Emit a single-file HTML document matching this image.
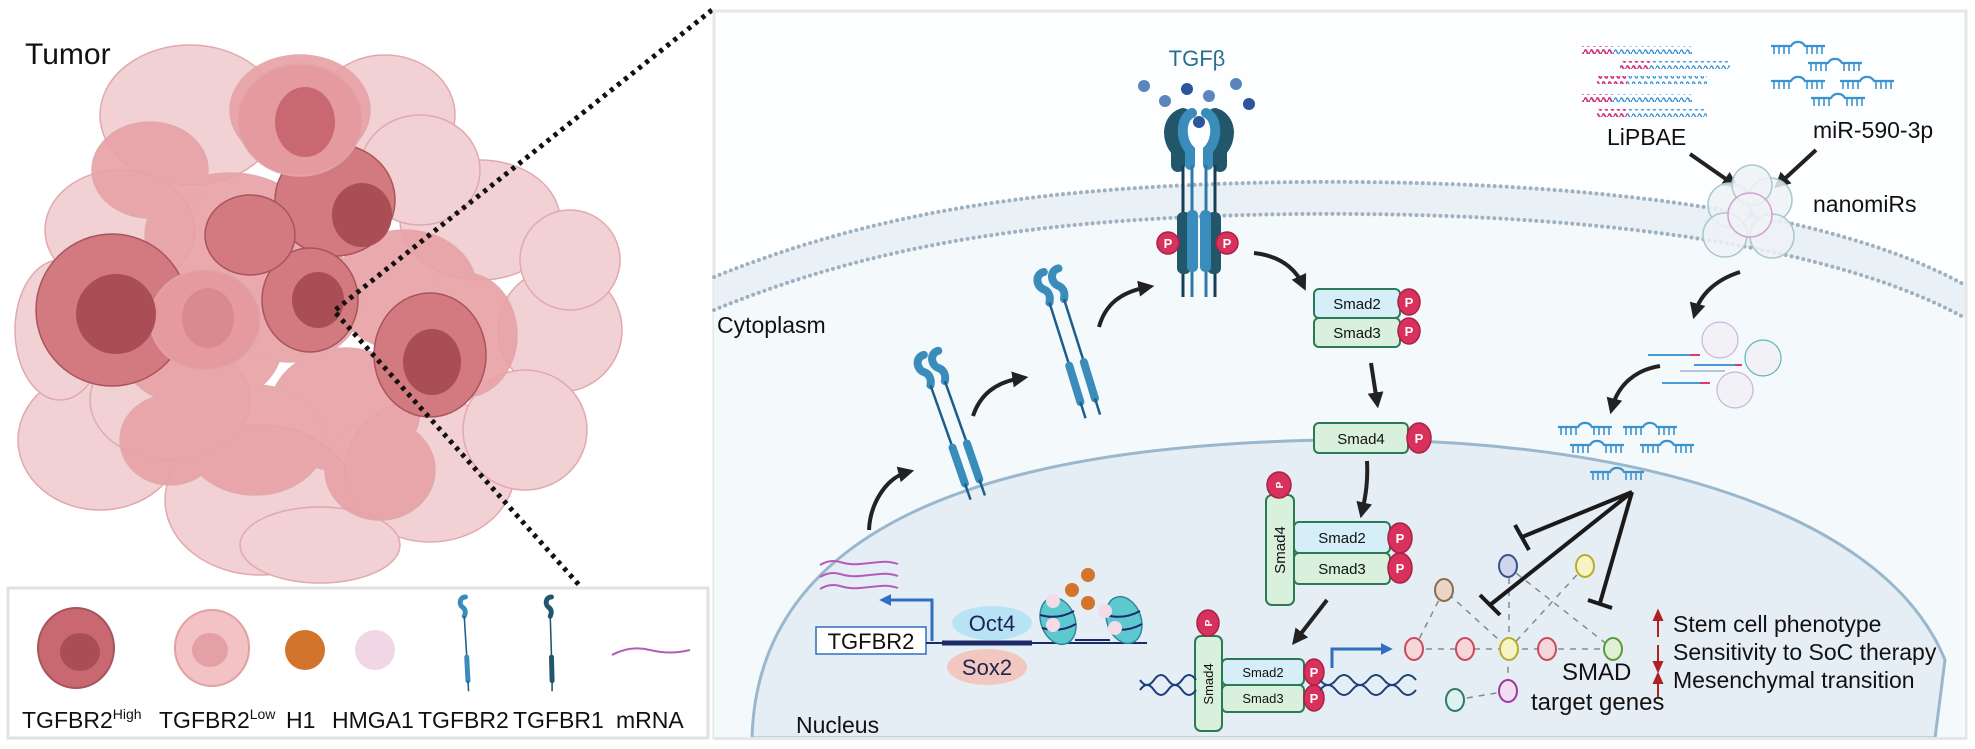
<!DOCTYPE html>
<html><head><meta charset="utf-8"><style>
html,body{margin:0;padding:0;background:#fff}
svg{display:block}
text{font-family:"Liberation Sans",sans-serif}
</style></head><body>
<svg width="1975" height="749" viewBox="0 0 1975 749" xmlns="http://www.w3.org/2000/svg">
<defs>
<marker id="ah" viewBox="0 0 10 10" refX="6" refY="5" markerWidth="4" markerHeight="4" orient="auto"><path d="M0 0 L10 5 L0 10 Z" fill="#222"/></marker>
<marker id="ahb" viewBox="0 0 10 10" refX="6" refY="5" markerWidth="4" markerHeight="4" orient="auto"><path d="M0 0 L10 5 L0 10 Z" fill="#2f6fc0"/></marker>
<pattern id="wb" width="6" height="8" patternUnits="userSpaceOnUse"><path d="M0 4 Q1.5 0 3 4 T6 4" fill="none" stroke="#4a9ad6" stroke-width="1.6"/></pattern>
<pattern id="wp" width="6" height="8" patternUnits="userSpaceOnUse"><path d="M0 4 Q1.5 0 3 4 T6 4" fill="none" stroke="#d83a7c" stroke-width="1.8"/></pattern>
<g id="mir" fill="none" stroke="#3c92cf" stroke-width="2.2"><path d="M0 8 H20 A8 8 0 0 1 34 8 H54"/><path d="M3 8v8M8 8v8M13 8v8M18 8v8M36 8v8M41 8v8M46 8v8M51 8v8" stroke-width="1.6"/></g>
<g id="rec"><path d="M4 0 C-6 0 -7 13 0 17 C5 21 4 27 2 31" fill="none" stroke="#3a8dba" stroke-width="8" stroke-linecap="round"/><path d="M2 31 L6 95" stroke="#1f5d8a" stroke-width="2.5"/><path d="M6 97 L8 135" stroke="#3a8dba" stroke-width="8" stroke-linecap="round"/><path d="M8 135 L9 152" stroke="#1f5d8a" stroke-width="2.5"/></g>
</defs>

<text x="25" y="64" font-size="30" fill="#111">Tumor</text>
<g stroke="#e0a5aa" stroke-width="1.5">
<g fill="#f2cfd2" opacity="0.95">
<ellipse cx="190" cy="115" rx="90" ry="70"/><ellipse cx="385" cy="115" rx="70" ry="60"/><ellipse cx="120" cy="230" rx="75" ry="60"/><ellipse cx="480" cy="220" rx="80" ry="60"/><ellipse cx="560" cy="330" rx="62" ry="62"/><ellipse cx="100" cy="440" rx="82" ry="70"/><ellipse cx="260" cy="500" rx="95" ry="75"/><ellipse cx="430" cy="470" rx="85" ry="72"/><ellipse cx="525" cy="430" rx="62" ry="60"/><ellipse cx="320" cy="545" rx="80" ry="38"/><ellipse cx="170" cy="400" rx="80" ry="60"/><ellipse cx="570" cy="260" rx="50" ry="50"/><ellipse cx="60" cy="330" rx="45" ry="70"/><ellipse cx="420" cy="170" rx="60" ry="55"/></g>
<g fill="#e8a2a7" opacity="0.92">
<ellipse cx="300" cy="110" rx="70" ry="55"/><ellipse cx="230" cy="235" rx="85" ry="62"/><ellipse cx="405" cy="290" rx="72" ry="60"/><ellipse cx="200" cy="345" rx="82" ry="62"/><ellipse cx="345" cy="410" rx="75" ry="62"/><ellipse cx="465" cy="335" rx="52" ry="62"/><ellipse cx="290" cy="300" rx="72" ry="62"/><ellipse cx="150" cy="170" rx="58" ry="48"/><ellipse cx="255" cy="440" rx="70" ry="55"/><ellipse cx="380" cy="470" rx="55" ry="50"/><ellipse cx="170" cy="440" rx="50" ry="45"/></g>
<g fill="#d27a80" stroke="#a8545b"><ellipse cx="112" cy="310" rx="76" ry="76"/><ellipse cx="335" cy="200" rx="60" ry="56"/><ellipse cx="310" cy="300" rx="48" ry="52"/><ellipse cx="430" cy="355" rx="56" ry="62"/><ellipse cx="250" cy="235" rx="45" ry="40"/></g>
<g fill="#e59aa0"><ellipse cx="300" cy="120" rx="62" ry="56"/><ellipse cx="205" cy="320" rx="55" ry="50"/></g>
<g fill="#a94e55" stroke="none"><ellipse cx="116" cy="314" rx="40" ry="40"/><ellipse cx="362" cy="215" rx="30" ry="32"/><ellipse cx="318" cy="300" rx="26" ry="28"/><ellipse cx="432" cy="362" rx="29" ry="33"/><ellipse cx="305" cy="122" rx="30" ry="35" fill="#c96870"/><ellipse cx="208" cy="318" rx="26" ry="30" fill="#d98a90"/></g>
</g>
<path d="M712 10 L334 311 L580 586" fill="none" stroke="#111" stroke-width="5" stroke-dasharray="4 5"/>

<rect x="8" y="588" width="700" height="150" fill="#fff" stroke="#e2e2e2" stroke-width="3"/>
<ellipse cx="76" cy="648" rx="38" ry="40" fill="#c96870" stroke="#a8545b" stroke-width="2"/><ellipse cx="80" cy="652" rx="20" ry="19" fill="#a94e55"/>
<ellipse cx="212" cy="648" rx="37" ry="38" fill="#f2c2c5" stroke="#e3a1a6" stroke-width="2"/><ellipse cx="210" cy="650" rx="18" ry="17" fill="#e4a0a5"/>
<circle cx="305" cy="650" r="20" fill="#d2742b"/>
<circle cx="375" cy="650" r="20" fill="#f1d6e6"/>
<g transform="translate(463,597) scale(0.62)"><use href="#rec"/></g>
<g transform="translate(549,597) scale(0.62)"><path d="M4 0 C-6 0 -7 13 0 17 C5 21 4 27 2 31" fill="none" stroke="#22566a" stroke-width="8" stroke-linecap="round"/><path d="M2 31 L4 95 M5 135 L5 152" stroke="#22566a" stroke-width="2.5"/><path d="M4 97 L5 135" stroke="#22566a" stroke-width="8" stroke-linecap="round"/></g>
<path d="M612 655 Q630 645 650 650 T690 650" fill="none" stroke="#b45cb8" stroke-width="2"/>
<g font-size="23" fill="#111">
<text x="22" y="728">TGFBR2<tspan font-size="14" dy="-9">High</tspan></text>
<text x="159" y="728">TGFBR2<tspan font-size="14" dy="-9">Low</tspan></text>
<text x="286" y="728">H1</text><text x="332" y="728">HMGA1</text><text x="418" y="728">TGFBR2</text><text x="513" y="728">TGFBR1</text><text x="616" y="728">mRNA</text>
</g>

<rect x="714" y="11" width="1252" height="727" fill="#fcfeff" stroke="#e6e6e6" stroke-width="3"/>
<path d="M714 277 C880 210 1050 185 1300 182 C1560 180 1820 205 1965 285 L1965 738 L714 738 Z" fill="#f4f9fc"/>
<path d="M714 277 C880 210 1050 185 1300 182 C1560 180 1820 205 1965 285 L1965 318 C1820 238 1560 212 1300 214 C1050 217 880 242 714 310 Z" fill="#eaf1f6"/>
<path d="M714 277 C880 210 1050 185 1300 182 C1560 180 1820 205 1965 285" fill="none" stroke="#9fb1c0" stroke-width="4" stroke-linecap="round" stroke-dasharray="0 6"/>
<path d="M714 310 C880 242 1050 217 1300 214 C1560 212 1820 238 1965 318" fill="none" stroke="#9fb1c0" stroke-width="4" stroke-linecap="round" stroke-dasharray="0 6"/>
<path d="M752 738 C758 520 1000 445 1330 440 C1600 436 1880 500 1945 660 L1935 738 Z" fill="#e6eef5" stroke="#9ab7cc" stroke-width="3"/>
<rect x="714" y="737" width="1252" height="3" fill="#e6e6e6"/>
<text x="717" y="333" font-size="23" fill="#111">Cytoplasm</text>
<text x="796" y="733" font-size="23" fill="#111">Nucleus</text>

<g transform="translate(920,356) rotate(-16)"><use href="#rec"/><use href="#rec" x="15"/></g>
<g transform="translate(1040,273) rotate(-14)"><use href="#rec"/><use href="#rec" x="15"/></g>
<g>
<path d="M1183 115 C1168 120 1168 140 1178 150 L1178 165" fill="none" stroke="#22566a" stroke-width="14" stroke-linecap="round"/>
<path d="M1215 115 C1230 120 1230 140 1220 150 L1220 165" fill="none" stroke="#22566a" stroke-width="14" stroke-linecap="round"/>
<path d="M1192 113 C1180 118 1180 140 1190 150 L1190 165" fill="none" stroke="#3a8dba" stroke-width="10" stroke-linecap="round"/>
<path d="M1206 113 C1218 118 1218 140 1208 150 L1208 165" fill="none" stroke="#3a8dba" stroke-width="10" stroke-linecap="round"/>
<path d="M1183 165 V297 M1215 165 V297" stroke="#163f55" stroke-width="3"/>
<path d="M1192 165 V297 M1206 165 V297" stroke="#2e79a8" stroke-width="3"/>
<rect x="1177" y="212" width="14" height="62" rx="6" fill="#22566a"/><rect x="1207" y="212" width="14" height="62" rx="6" fill="#22566a"/>
<rect x="1187" y="210" width="11" height="62" rx="5" fill="#3a8dba"/><rect x="1200" y="210" width="11" height="62" rx="5" fill="#3a8dba"/>
</g>
<g fill="#d8315b" stroke="#a8214a" stroke-width="1.5"><circle cx="1168" cy="243" r="11"/><circle cx="1227" cy="243" r="11"/></g>
<g fill="#fff" font-size="13" font-weight="bold" text-anchor="middle"><text x="1168" y="248">P</text><text x="1227" y="248">P</text></g>
<text x="1197" y="66" font-size="22" fill="#2b6f8e" text-anchor="middle">TGFβ</text>
<g fill="#5a86bd"><circle cx="1144" cy="86" r="6"/><circle cx="1187" cy="89" r="6" fill="#2d559a"/><circle cx="1165" cy="101" r="6"/><circle cx="1209" cy="96" r="6"/><circle cx="1236" cy="84" r="6"/><circle cx="1249" cy="104" r="6" fill="#2d559a"/><circle cx="1199" cy="122" r="6" fill="#2d559a"/></g>

<g fill="none" stroke="#222" stroke-width="4" marker-end="url(#ah)">
<path d="M869 530 C870 505 885 478 908 472"/>
<path d="M973 416 C980 395 995 382 1022 378"/>
<path d="M1099 327 C1105 305 1120 292 1148 287"/>
<path d="M1254 253 C1280 256 1295 268 1303 285"/>
<path d="M1371 363 L1377 402"/>
<path d="M1367 461 C1368 480 1366 495 1362 512"/>
<path d="M1327 600 L1296 640"/>
<path d="M1740 272 C1715 280 1700 295 1695 313"/>
<path d="M1660 366 C1635 370 1618 385 1612 408"/>
<path d="M1690 154 L1733 184"/>
<path d="M1816 150 L1779 184"/>
</g>

<g font-size="15" fill="#111" text-anchor="middle">
<rect x="1314" y="289" width="86" height="29" rx="5" fill="#d6eef7" stroke="#2a7a55" stroke-width="2"/><text x="1357" y="309">Smad2</text>
<rect x="1314" y="318" width="86" height="29" rx="5" fill="#d9f1dc" stroke="#2a7a55" stroke-width="2"/><text x="1357" y="338">Smad3</text>
<rect x="1314" y="423" width="94" height="30" rx="5" fill="#d9f1dc" stroke="#2a7a55" stroke-width="2"/><text x="1361" y="444">Smad4</text>
<rect x="1266" y="495" width="28" height="110" rx="6" fill="#d9f1dc" stroke="#2a7a55" stroke-width="2"/><text transform="translate(1285,550) rotate(-90)">Smad4</text>
<rect x="1294" y="522" width="96" height="31" rx="5" fill="#d6eef7" stroke="#2a7a55" stroke-width="2"/><text x="1342" y="543">Smad2</text>
<rect x="1294" y="553" width="96" height="31" rx="5" fill="#d9f1dc" stroke="#2a7a55" stroke-width="2"/><text x="1342" y="574">Smad3</text>
<rect x="1195" y="636" width="27" height="95" rx="6" fill="#d9f1dc" stroke="#2a7a55" stroke-width="2"/><text transform="translate(1213,684) rotate(-90)" font-size="13">Smad4</text>
<rect x="1222" y="659" width="82" height="26" rx="5" fill="#d6eef7" stroke="#2a7a55" stroke-width="2"/><text x="1263" y="677" font-size="13">Smad2</text>
<rect x="1222" y="685" width="82" height="27" rx="5" fill="#d9f1dc" stroke="#2a7a55" stroke-width="2"/><text x="1263" y="703" font-size="13">Smad3</text>
</g>
<g fill="#d8315b" stroke="#a8214a" stroke-width="1.5">
<ellipse cx="1409" cy="302" rx="11" ry="13"/><ellipse cx="1409" cy="331" rx="11" ry="13"/><ellipse cx="1419" cy="438" rx="12" ry="15"/>
<ellipse cx="1279" cy="485" rx="12" ry="13"/><ellipse cx="1400" cy="538" rx="12" ry="15"/><ellipse cx="1400" cy="568" rx="12" ry="15"/>
<ellipse cx="1208" cy="623" rx="11" ry="13"/><ellipse cx="1314" cy="672" rx="10" ry="13"/><ellipse cx="1314" cy="698" rx="10" ry="13"/>
</g>
<g fill="#fff" font-size="13" font-weight="bold" text-anchor="middle">
<text x="1409" y="307">P</text><text x="1409" y="336">P</text><text x="1419" y="443">P</text><text x="1400" y="543">P</text><text x="1400" y="573">P</text><text x="1314" y="677">P</text><text x="1314" y="703">P</text>
<text transform="translate(1283,485) rotate(-90)" font-size="10">P</text><text transform="translate(1212,623) rotate(-90)" font-size="10">P</text>
</g>
<g fill="none" stroke="#1d3f7a" stroke-width="2">
<path d="M1140 680 q7 10 14 0 t14 0 t14 0 t14 0"/><path d="M1140 690 q7 -10 14 0 t14 0 t14 0 t14 0"/>
<path d="M1320 680 q8 10 16 0 t16 0 t16 0 t16 0 t16 0 t16 0"/><path d="M1320 690 q8 -10 16 0 t16 0 t16 0 t16 0 t16 0 t16 0"/>
</g>
<path d="M1332 668 V649 H1388" fill="none" stroke="#2f6fc0" stroke-width="3" marker-end="url(#ahb)"/>

<g fill="none" stroke="#888" stroke-width="1.5" stroke-dasharray="6 6">
<path d="M1414 649 H1613"/><path d="M1414 649 L1444 590 L1509 649"/><path d="M1507 566 L1613 649"/><path d="M1585 566 L1509 649"/><path d="M1509 566 V649"/><path d="M1455 700 L1508 691 L1508 649"/>
</g>
<g stroke-width="2">
<ellipse cx="1414" cy="649" rx="9" ry="11" fill="#f6d6d8" stroke="#c94a5a"/>
<ellipse cx="1465" cy="649" rx="9" ry="11" fill="#f6d6d8" stroke="#c94a5a"/>
<ellipse cx="1509" cy="649" rx="9" ry="11" fill="#f6f3c7" stroke="#b8ad2a"/>
<ellipse cx="1547" cy="649" rx="9" ry="11" fill="#f6d6d8" stroke="#c94a5a"/>
<ellipse cx="1613" cy="649" rx="9" ry="11" fill="#dff0d5" stroke="#5a9a3a"/>
<ellipse cx="1444" cy="590" rx="9" ry="11" fill="#ead5c6" stroke="#8a6a50"/>
<ellipse cx="1508" cy="566" rx="9" ry="11" fill="#cfd6ea" stroke="#3b4f8a"/>
<ellipse cx="1585" cy="566" rx="9" ry="11" fill="#f6f3c7" stroke="#b8ad2a"/>
<ellipse cx="1455" cy="700" rx="9" ry="11" fill="#dff2ef" stroke="#2a7a6a"/>
<ellipse cx="1508" cy="691" rx="9" ry="11" fill="#f1dcf2" stroke="#9a3aa0"/>
</g>
<g stroke="#1a1a1a" stroke-width="4" fill="none">
<path d="M1632 492 L1522 537 M1515 525 L1529 550"/>
<path d="M1632 492 L1490 605 M1480 595 L1500 615"/>
<path d="M1632 492 L1600 603 M1588 600 L1612 608"/>
</g>
<text x="1562" y="680" font-size="24" fill="#111">SMAD</text>
<text x="1531" y="710" font-size="24" fill="#111">target genes</text>
<g stroke="#b02020" stroke-width="2" fill="#b02020">
<path d="M1658 637 V617"/><path d="M1654 620 L1658 611 L1662 620 Z"/>
<path d="M1658 645 V665"/><path d="M1654 662 L1658 671 L1662 662 Z"/>
<path d="M1658 697 V680"/><path d="M1654 683 L1658 674 L1662 683 Z"/>
</g>
<g font-size="23" fill="#111"><text x="1673" y="632">Stem cell phenotype</text><text x="1673" y="660">Sensitivity to SoC therapy</text><text x="1673" y="688">Mesenchymal transition</text></g>

<g fill="none" stroke="#b45cb8" stroke-width="2">
<path d="M820 565 q10 -6 20 -3 t20 2 t20 -2 t18 2"/><path d="M820 577 q10 -6 20 -3 t20 2 t20 -2 t18 2"/><path d="M820 589 q10 -6 20 -3 t20 2 t20 -2 t18 2"/>
</g>
<path d="M932 641 V600 H884" fill="none" stroke="#2f6fc0" stroke-width="3" marker-end="url(#ahb)"/>
<rect x="816" y="627" width="110" height="27" fill="#fff" stroke="#2f6fc0" stroke-width="1.5"/>
<text x="871" y="649" font-size="22" fill="#111" text-anchor="middle">TGFBR2</text>
<path d="M926 643 H1147" stroke="#1d2a6a" stroke-width="2"/><path d="M942 643 H1032" stroke="#1d2a6a" stroke-width="5"/>
<ellipse cx="992" cy="623" rx="40" ry="17" fill="#b7e3f4"/><text x="992" y="631" font-size="22" fill="#1c2450" text-anchor="middle">Oct4</text>
<ellipse cx="987" cy="667" rx="40" ry="18" fill="#f2c7c0"/><text x="987" y="675" font-size="22" fill="#1c2450" text-anchor="middle">Sox2</text>
<g fill="#5ec8d0" stroke="#2a8a9a" stroke-width="1.5"><ellipse cx="1058" cy="621" rx="17" ry="24" transform="rotate(-20 1058 621)"/><ellipse cx="1124" cy="620" rx="17" ry="24" transform="rotate(-20 1124 620)"/></g>
<path d="M1040 615 q18 5 34 -4 M1042 628 q18 5 34 -4 M1106 615 q18 5 34 -4 M1108 628 q18 5 34 -4 M1075 640 H1110" stroke="#1d2a6a" stroke-width="2" fill="none"/>
<g fill="#f3dbe8"><circle cx="1053" cy="601" r="7"/><circle cx="1053" cy="625" r="7"/><circle cx="1105" cy="611" r="7"/><circle cx="1115" cy="628" r="7"/></g>
<g fill="#d2742b"><circle cx="1088" cy="575" r="7"/><circle cx="1072" cy="590" r="7"/><circle cx="1088" cy="603" r="7"/></g>

<rect x="1582" y="46" width="110" height="8" fill="url(#wb)"/><rect x="1582" y="46" width="30" height="8" fill="url(#wp)"/>
<rect x="1620" y="61" width="110" height="8" fill="url(#wb)"/><rect x="1620" y="61" width="30" height="8" fill="url(#wp)"/>
<rect x="1597" y="76" width="110" height="8" fill="url(#wb)"/><rect x="1597" y="76" width="30" height="8" fill="url(#wp)"/>
<rect x="1582" y="94" width="110" height="8" fill="url(#wb)"/><rect x="1582" y="94" width="30" height="8" fill="url(#wp)"/>
<rect x="1597" y="109" width="110" height="8" fill="url(#wb)"/><rect x="1597" y="109" width="30" height="8" fill="url(#wp)"/>
<use href="#mir" x="1771" y="38"/><use href="#mir" x="1808" y="55"/><use href="#mir" x="1771" y="73"/><use href="#mir" x="1840" y="73"/><use href="#mir" x="1811" y="90"/>
<text x="1607" y="145" font-size="23" fill="#111">LiPBAE</text>
<text x="1813" y="138" font-size="23" fill="#111">miR-590-3p</text>
<text x="1813" y="212" font-size="23" fill="#111">nanomiRs</text>
<g fill="#eef2f6" fill-opacity="0.85" stroke="#a7c9cf" stroke-width="1.5">
<circle cx="1730" cy="205" r="22"/><circle cx="1770" cy="200" r="22"/><circle cx="1752" cy="185" r="20"/><circle cx="1725" cy="235" r="22"/><circle cx="1772" cy="236" r="22"/><circle cx="1750" cy="215" r="22" stroke="#d3a3cf"/>
</g>
<g fill="#f2f2f6" stroke="#c9b6d6" stroke-width="1.2"><circle cx="1720" cy="340" r="18"/><circle cx="1763" cy="358" r="18" stroke="#5fb8b0"/><circle cx="1735" cy="390" r="18"/></g>
<g stroke-width="2"><path d="M1648 355 H1690" stroke="#4a9ad6"/><path d="M1690 355 H1700" stroke="#d83a7c"/><path d="M1694 365 H1735" stroke="#4a9ad6"/><path d="M1735 365 H1742" stroke="#d83a7c"/><path d="M1680 371 H1725" stroke="#b9c4d6"/><path d="M1662 383 H1700" stroke="#4a9ad6"/><path d="M1700 383 H1710" stroke="#d83a7c"/></g>
<use href="#mir" x="1558" y="419"/><use href="#mir" x="1623" y="419"/><use href="#mir" x="1570" y="437"/><use href="#mir" x="1640" y="437"/><use href="#mir" x="1590" y="464"/>
</svg>
</body></html>
